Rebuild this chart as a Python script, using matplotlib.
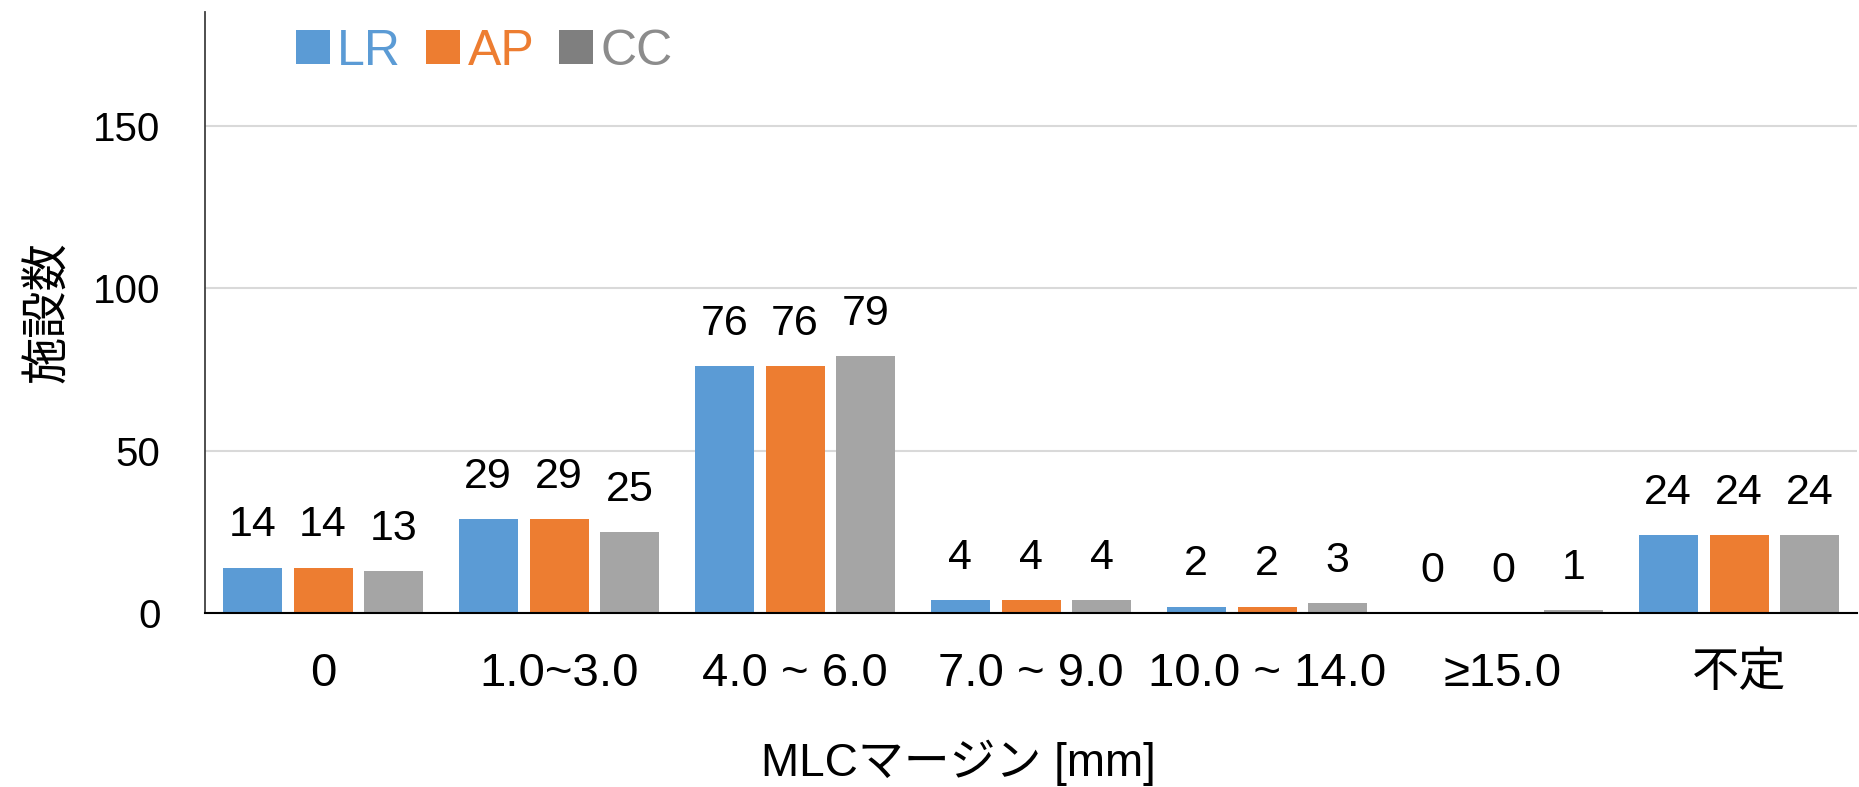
import numpy as np
import matplotlib
matplotlib.use('Agg')
import matplotlib.pyplot as plt
from matplotlib.patches import Patch

plt.rcParams['font.family'] = ['Liberation Sans', 'Noto Sans CJK JP', 'DejaVu Sans']

categories = ['0', '1.0~3.0', '4.0 ~ 6.0', '7.0 ~ 9.0', '10.0 ~ 14.0', '≥15.0', '不定']
series_names = ['LR', 'AP', 'CC']
lr = [14, 29, 76, 4, 2, 0, 24]
ap = [14, 29, 76, 4, 2, 0, 24]
cc = [13, 25, 79, 4, 3, 1, 24]
yticks = [0, 50, 100, 150]

bar_colors = ['#5b9bd5', '#ed7d31', '#a5a5a5']
legend_patch_colors = ['#5b9bd5', '#ed7d31', '#7f7f7f']
legend_text_colors = ['#5b9bd5', '#ed7d31', '#8c8c8c']

fig = plt.figure(figsize=(18.59, 7.87), dpi=100)
ax = fig.add_axes([205 / 1859, 1 - 613 / 787, (1857 - 205) / 1859, (613 - 12) / 787])

x = np.arange(len(categories))
width = 0.25
offsets = [-0.3, 0.0, 0.3]
for vals, off, col in zip([lr, ap, cc], offsets, bar_colors):
    bars = ax.bar(x + off, vals, width, color=col, zorder=2)
    for b, v in zip(bars, vals):
        ax.annotate(str(v), (b.get_x() + b.get_width() / 2, v), xytext=(0, 16),
                    textcoords='offset points', ha='center', va='bottom', fontsize=31)

ax.set_xlim(-0.5, len(categories) - 0.5)
ax.set_ylim(0, 185)
ax.set_yticks(yticks)
ax.set_xticks(x)
ax.set_xticklabels(categories)
ax.tick_params(axis='both', length=0)
ax.tick_params(axis='x', labelsize=34, pad=28)
ax.tick_params(axis='y', labelsize=29, pad=32)
ax.grid(axis='y', color='#d9d9d9', linewidth=1.5, zorder=0)
ax.set_axisbelow(True)
for s in ['top', 'right']:
    ax.spines[s].set_visible(False)
ax.spines['left'].set_color('#404040')
ax.spines['left'].set_linewidth(1.3)
ax.spines['bottom'].set_color('#000000')
ax.spines['bottom'].set_linewidth(1.5)

ax.set_xlabel('MLCマージン [mm]', fontsize=33)
ax.xaxis.set_label_coords(0.456, -0.21)
ax.set_ylabel('施設数', fontsize=34)
ax.yaxis.set_label_coords((71 - 205) / 1652, 0.5)

handles = [Patch(facecolor=c) for c in legend_patch_colors]
leg = ax.legend(handles, series_names, loc='upper left', bbox_to_anchor=(0.055, 0.972),
                ncol=3, frameon=False, fontsize=36, handlelength=0.68, handleheight=0.68,
                handletextpad=0.15, columnspacing=0.5, borderpad=0, borderaxespad=0)
for t, c in zip(leg.get_texts(), legend_text_colors):
    t.set_color(c)

fig.savefig('out.png', dpi=100)
